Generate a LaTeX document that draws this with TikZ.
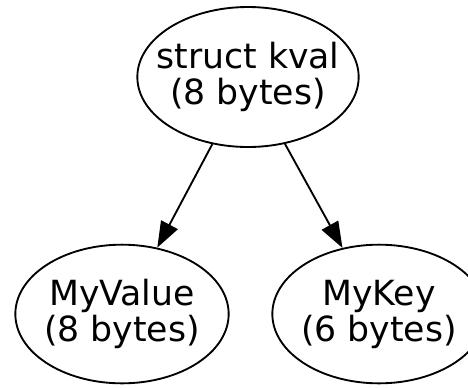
\documentclass[tikz,border=0pt]{standalone}
\usepackage{fontspec}
\setmainfont{DejaVu Sans}
\usepackage{tikz}
\usetikzlibrary{arrows.meta,shapes,positioning}

\begin{document}
\begin{tikzpicture}[x=0.75pt,y=-0.75pt,
	field/.style={draw, ellipse, line width=1.4pt, inner xsep=-14pt, inner ysep=0pt,
		align=center, font=\fontsize{26}{27}\selectfont,
		execute at begin node={\rule{0pt}{0.95em}}},
	>={Triangle[length=19.5pt,width=14pt]}]
	\useasboundingbox (0,0) rectangle (468,387);

	% the struct and its two members
	\node[field, minimum width=166pt, minimum height=105pt] (kval) at (248,77) {struct kval\\(8 bytes)};
	\node[field, minimum width=160pt, minimum height=104pt] (value) at (122,314) {MyValue\\(8 bytes)};
	\node[field, minimum width=160pt, minimum height=104pt] (key) at (379,314) {MyKey\\(6 bytes)};

	\draw[->, line width=1.4pt] (kval) -- (value);
	\draw[->, line width=1.4pt] (kval) -- (key);
\end{tikzpicture}
\end{document}
